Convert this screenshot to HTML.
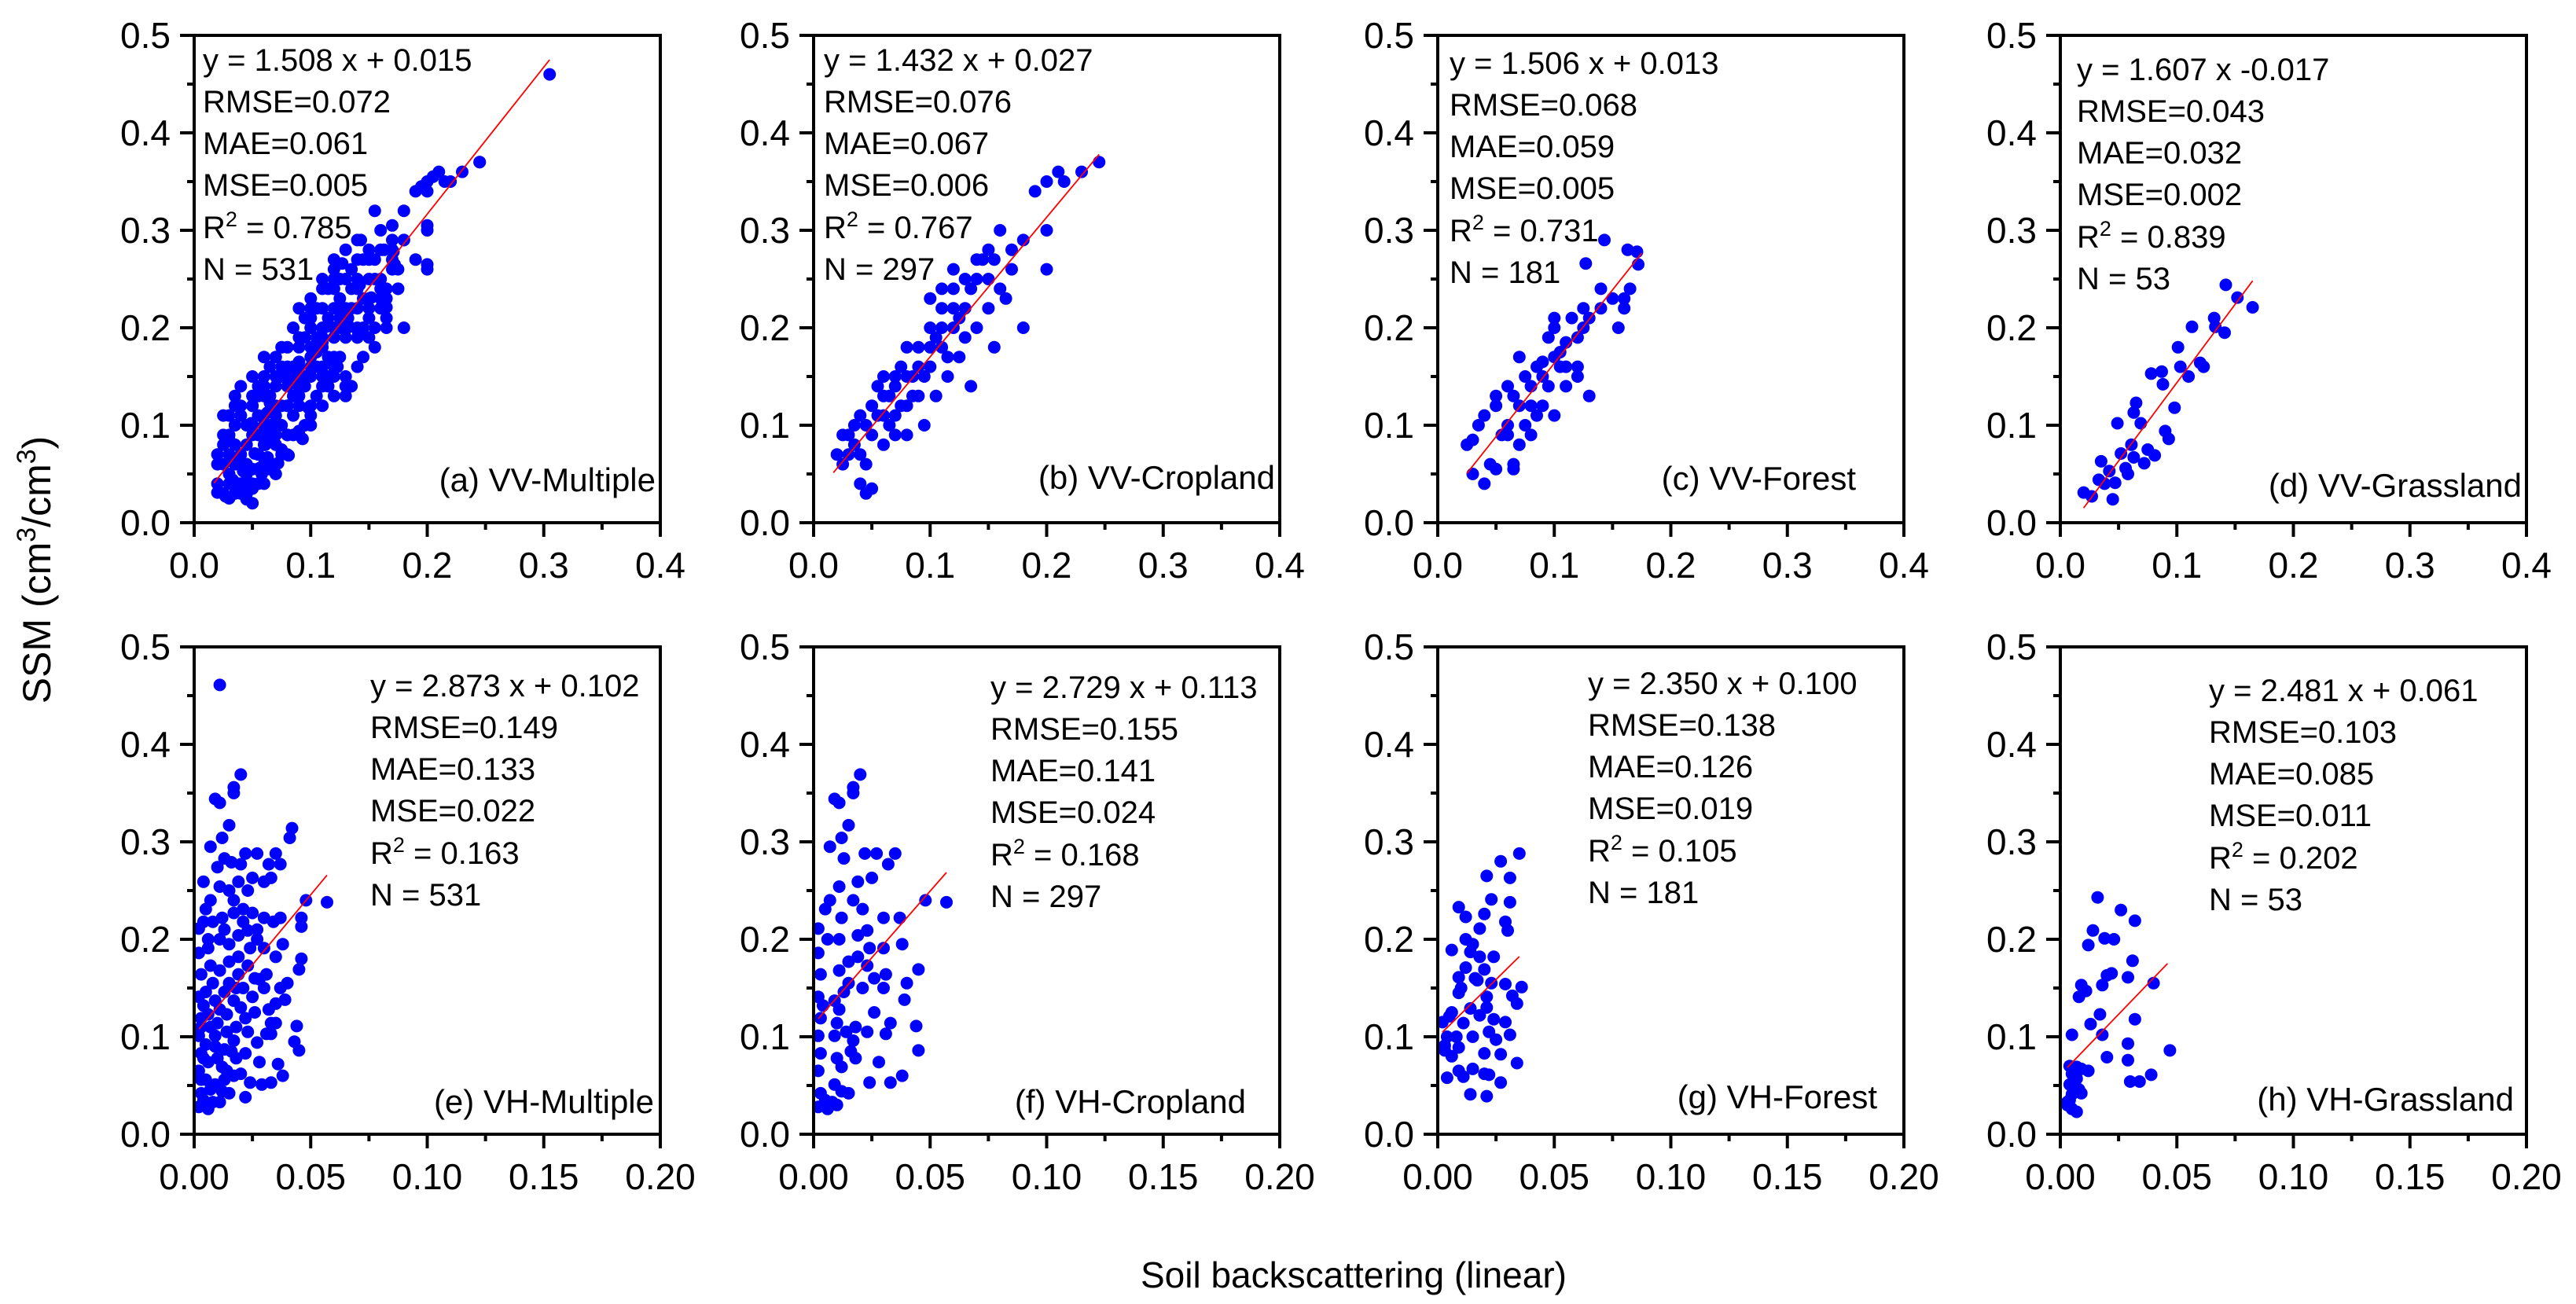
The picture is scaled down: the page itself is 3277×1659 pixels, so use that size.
<!DOCTYPE html>
<html><head><meta charset="utf-8">
<style>
html,body{margin:0;padding:0;background:#fff;}
svg{display:block;font-family:"Liberation Sans",Arial,sans-serif;}
</style></head>
<body>
<svg id="fig" width="3277" height="1659" viewBox="0 0 3277 1659" xmlns="http://www.w3.org/2000/svg">
<rect width="3277" height="1659" fill="#fff"/>
<text x="0" y="0" transform="translate(64,725) rotate(-90)" text-anchor="middle" font-size="50">SSM (cm<tspan baseline-shift="super" font-size="34">3</tspan>/cm<tspan baseline-shift="super" font-size="34">3</tspan>)</text>
<text x="1722" y="1638" text-anchor="middle" font-size="46">Soil backscattering (linear)</text>
</svg>
<script>
// ---- data ----
const yTicks = [0, 0.1, 0.2, 0.3, 0.4, 0.5];
const yTickLabels = ["0.0","0.1","0.2","0.3","0.4","0.5"];
const xTicksVV = [0, 0.1, 0.2, 0.3, 0.4];
const xTickLabelsVV = ["0.0","0.1","0.2","0.3","0.4"];
const xTicksVH = [0, 0.05, 0.1, 0.15, 0.2];
const xTickLabelsVH = ["0.00","0.05","0.10","0.15","0.20"];

const fitSlopes = [1.508, 1.432, 1.506, 1.607, 2.873, 2.729, 2.350, 2.481];
const fitIntercepts = [0.015, 0.027, 0.013, -0.017, 0.102, 0.113, 0.100, 0.061];
const fitXRange = [[0.017,0.305],[0.017,0.245],[0.025,0.175],[0.02,0.165],[0.002,0.057],[0.002,0.057],[0.002,0.035],[0.003,0.046]];
const statRMSE = ["0.072","0.076","0.068","0.043","0.149","0.155","0.138","0.103"];
const statMAE = ["0.061","0.067","0.059","0.032","0.133","0.141","0.126","0.085"];
const statMSE = ["0.005","0.006","0.005","0.002","0.022","0.024","0.019","0.011"];
const statR2 = ["0.785","0.767","0.731","0.839","0.163","0.168","0.105","0.202"];
const statN = ["531","297","181","53","531","297","181","53"];
const eqTexts = ["y = 1.508 x + 0.015","y = 1.432 x + 0.027","y = 1.506 x + 0.013","y = 1.607 x -0.017","y = 2.873 x + 0.102","y = 2.729 x + 0.113","y = 2.350 x + 0.100","y = 2.481 x + 0.061"];
const panelLabels = ["(a) VV-Multiple","(b) VV-Cropland","(c) VV-Forest","(d) VV-Grassland","(e) VH-Multiple","(f) VH-Cropland","(g) VH-Forest","(h) VH-Grassland"];

const ptsB = [[0.02,0.07],[0.025,0.06],[0.03,0.09],[0.035,0.08],[0.04,0.04],[0.045,0.03],[0.05,0.035],[0.04,0.11],[0.05,0.12],[0.05,0.09],[0.06,0.13],[0.06,0.08],[0.065,0.1],[0.07,0.14],[0.07,0.11],[0.075,0.16],[0.08,0.12],[0.08,0.09],[0.085,0.15],[0.09,0.18],[0.09,0.13],[0.095,0.1],[0.1,0.16],[0.1,0.2],[0.105,0.13],[0.11,0.18],[0.11,0.22],[0.115,0.15],[0.12,0.2],[0.12,0.24],[0.125,0.17],[0.13,0.19],[0.13,0.22],[0.135,0.14],[0.14,0.25],[0.14,0.2],[0.145,0.27],[0.15,0.22],[0.15,0.28],[0.155,0.18],[0.16,0.24],[0.16,0.3],[0.17,0.26],[0.18,0.2],[0.18,0.29],[0.19,0.34],[0.2,0.3],[0.2,0.26],[0.2,0.35],[0.21,0.36],[0.215,0.35],[0.23,0.36],[0.245,0.37],[0.165,0.23],[0.03,0.07],[0.035,0.1],[0.045,0.1],[0.055,0.11],[0.06,0.11],[0.065,0.13],[0.07,0.09],[0.075,0.12],[0.08,0.15],[0.085,0.13],[0.09,0.16],[0.095,0.15],[0.1,0.18],[0.105,0.19],[0.11,0.2],[0.115,0.17],[0.12,0.22],[0.125,0.21],[0.13,0.25],[0.135,0.24],[0.14,0.27],[0.15,0.25],[0.155,0.27],[0.17,0.28],[0.06,0.15],[0.045,0.06],[0.04,0.07],[0.055,0.14],[0.1,0.23],[0.11,0.24],[0.12,0.26],[0.08,0.18],[0.025,0.09],[0.07,0.15]];
const ptsC = [[0.025,0.08],[0.03,0.085],[0.035,0.1],[0.04,0.11],[0.03,0.05],[0.04,0.04],[0.045,0.06],[0.05,0.055],[0.05,0.13],[0.05,0.12],[0.055,0.09],[0.06,0.09],[0.06,0.14],[0.065,0.13],[0.065,0.06],[0.065,0.055],[0.07,0.12],[0.07,0.08],[0.075,0.1],[0.08,0.09],[0.075,0.15],[0.08,0.14],[0.085,0.16],[0.09,0.12],[0.09,0.15],[0.095,0.14],[0.1,0.17],[0.095,0.19],[0.1,0.2],[0.1,0.21],[0.105,0.16],[0.105,0.175],[0.11,0.185],[0.11,0.14],[0.12,0.16],[0.12,0.15],[0.115,0.21],[0.125,0.2],[0.125,0.22],[0.13,0.21],[0.14,0.24],[0.14,0.22],[0.15,0.23],[0.155,0.2],[0.16,0.22],[0.16,0.23],[0.165,0.24],[0.143,0.29],[0.163,0.28],[0.171,0.278],[0.172,0.265],[0.127,0.266],[0.13,0.13],[0.1,0.11],[0.085,0.11],[0.06,0.1],[0.07,0.17],[0.09,0.165],[0.11,0.16],[0.08,0.12],[0.12,0.19]];
const ptsD = [[0.02,0.031],[0.027,0.027],[0.033,0.044],[0.035,0.063],[0.042,0.053],[0.045,0.024],[0.047,0.041],[0.049,0.102],[0.052,0.071],[0.056,0.056],[0.061,0.08],[0.063,0.113],[0.065,0.123],[0.069,0.102],[0.072,0.061],[0.078,0.153],[0.081,0.069],[0.087,0.155],[0.088,0.142],[0.09,0.094],[0.093,0.086],[0.098,0.118],[0.101,0.18],[0.103,0.16],[0.11,0.15],[0.113,0.201],[0.12,0.164],[0.123,0.16],[0.132,0.21],[0.133,0.201],[0.141,0.195],[0.142,0.244],[0.152,0.231],[0.165,0.221],[0.063,0.067],[0.075,0.075],[0.038,0.04],[0.058,0.05]];
const ptsAExtra = [[0.02,0.06],[0.025,0.03],[0.03,0.025],[0.03,0.11],[0.035,0.12],[0.04,0.12],[0.045,0.03],[0.05,0.02],[0.05,0.04],[0.045,0.08],[0.05,0.1],[0.055,0.13],[0.06,0.14],[0.06,0.06],[0.065,0.09],[0.07,0.05],[0.075,0.07],[0.08,0.16],[0.085,0.09],[0.09,0.19],[0.1,0.15],[0.1,0.12],[0.11,0.19],[0.115,0.14],[0.12,0.25],[0.12,0.17],[0.125,0.23],[0.13,0.15],[0.135,0.26],[0.14,0.19],[0.145,0.17],[0.15,0.27],[0.15,0.21],[0.155,0.25],[0.16,0.28],[0.17,0.27],[0.175,0.24],[0.18,0.32],[0.18,0.29],[0.19,0.27],[0.195,0.345],[0.2,0.34],[0.2,0.305],[0.205,0.355],[0.2,0.265],[0.22,0.35],[0.245,0.37],[0.305,0.46],[0.155,0.32],[0.17,0.305],[0.175,0.24],[0.165,0.21],[0.15,0.19],[0.14,0.16],[0.13,0.14],[0.145,0.2],[0.085,0.2],[0.09,0.22],[0.1,0.22],[0.11,0.25],[0.12,0.27],[0.13,0.28],[0.14,0.29],[0.06,0.17],[0.05,0.15],[0.04,0.14],[0.035,0.13],[0.025,0.11],[0.03,0.04],[0.035,0.03],[0.04,0.03],[0.055,0.04],[0.06,0.04],[0.07,0.06],[0.08,0.07],[0.09,0.09],[0.1,0.1],[0.11,0.12],[0.12,0.13],[0.065,0.16],[0.075,0.18],[0.095,0.21],[0.105,0.22],[0.115,0.24],[0.125,0.25],[0.135,0.22],[0.145,0.23],[0.16,0.25],[0.175,0.26],[0.17,0.29],[0.165,0.2],[0.055,0.07],[0.045,0.05],[0.035,0.06],[0.02,0.04]];

const ptsE = [[0.011,0.461],[0.009,0.344],[0.011,0.34],[0.017,0.356],[0.017,0.35],[0.02,0.369],[0.015,0.317],[0.012,0.304],[0.007,0.295],[0.004,0.259],[0.01,0.274],[0.013,0.283],[0.016,0.279],[0.02,0.277],[0.022,0.288],[0.027,0.288],[0.032,0.277],[0.035,0.288],[0.037,0.277],[0.042,0.314],[0.041,0.304],[0.002,0.211],[0.004,0.218],[0.007,0.24],[0.011,0.254],[0.015,0.25],[0.019,0.259],[0.025,0.263],[0.03,0.259],[0.033,0.263],[0.005,0.231],[0.008,0.218],[0.012,0.222],[0.017,0.227],[0.021,0.231],[0.025,0.227],[0.03,0.222],[0.034,0.218],[0.037,0.222],[0.046,0.222],[0.046,0.213],[0.048,0.24],[0.057,0.238],[0.002,0.186],[0.006,0.191],[0.011,0.2],[0.015,0.195],[0.019,0.204],[0.023,0.209],[0.027,0.2],[0.03,0.191],[0.035,0.182],[0.038,0.195],[0.046,0.18],[0.045,0.169],[0.003,0.164],[0.007,0.173],[0.011,0.168],[0.015,0.177],[0.019,0.164],[0.023,0.173],[0.028,0.159],[0.031,0.164],[0.037,0.15],[0.04,0.155],[0.002,0.141],[0.005,0.146],[0.009,0.137],[0.013,0.146],[0.017,0.137],[0.021,0.15],[0.025,0.141],[0.03,0.15],[0.035,0.134],[0.039,0.138],[0.003,0.119],[0.006,0.123],[0.01,0.114],[0.014,0.123],[0.018,0.11],[0.022,0.119],[0.026,0.125],[0.032,0.128],[0.033,0.114],[0.035,0.114],[0.044,0.111],[0.002,0.101],[0.005,0.092],[0.009,0.101],[0.013,0.087],[0.017,0.096],[0.023,0.105],[0.027,0.094],[0.031,0.103],[0.033,0.103],[0.043,0.095],[0.045,0.086],[0.003,0.083],[0.006,0.074],[0.01,0.078],[0.014,0.065],[0.018,0.078],[0.022,0.083],[0.028,0.074],[0.036,0.072],[0.038,0.06],[0.002,0.065],[0.005,0.056],[0.009,0.051],[0.013,0.056],[0.015,0.042],[0.02,0.062],[0.024,0.053],[0.029,0.051],[0.033,0.053],[0.022,0.038],[0.002,0.028],[0.004,0.035],[0.006,0.026],[0.008,0.033],[0.011,0.033],[0.003,0.042],[0.007,0.046],[0.012,0.044],[0.003,0.056],[0.004,0.078],[0.003,0.11],[0.004,0.132],[0.007,0.11],[0.011,0.128],[0.015,0.155],[0.019,0.182],[0.021,0.218],[0.024,0.191],[0.018,0.15],[0.014,0.105],[0.012,0.069],[0.017,0.06],[0.008,0.155],[0.006,0.2],[0.013,0.21],[0.017,0.24],[0.023,0.25],[0.027,0.21],[0.02,0.13],[0.026,0.16],[0.009,0.09],[0.016,0.085]];
const ptsF = [[0.02,0.369],[0.017,0.356],[0.017,0.35],[0.009,0.344],[0.011,0.34],[0.015,0.317],[0.012,0.304],[0.007,0.295],[0.013,0.283],[0.022,0.288],[0.027,0.288],[0.032,0.277],[0.035,0.288],[0.002,0.211],[0.007,0.24],[0.011,0.254],[0.019,0.259],[0.025,0.263],[0.005,0.231],[0.012,0.222],[0.021,0.231],[0.03,0.222],[0.037,0.222],[0.048,0.24],[0.057,0.238],[0.002,0.186],[0.011,0.2],[0.019,0.204],[0.023,0.209],[0.03,0.191],[0.038,0.195],[0.045,0.169],[0.003,0.164],[0.011,0.168],[0.015,0.177],[0.023,0.173],[0.031,0.164],[0.04,0.155],[0.002,0.141],[0.009,0.137],[0.013,0.146],[0.021,0.15],[0.03,0.15],[0.039,0.138],[0.003,0.119],[0.01,0.114],[0.018,0.11],[0.026,0.125],[0.033,0.114],[0.044,0.111],[0.002,0.101],[0.009,0.101],[0.017,0.096],[0.023,0.105],[0.031,0.103],[0.045,0.086],[0.003,0.083],[0.01,0.078],[0.018,0.078],[0.028,0.074],[0.038,0.06],[0.002,0.065],[0.009,0.051],[0.015,0.042],[0.024,0.053],[0.033,0.053],[0.002,0.028],[0.006,0.026],[0.008,0.033],[0.003,0.042],[0.012,0.044],[0.004,0.132],[0.011,0.128],[0.015,0.155],[0.019,0.182],[0.024,0.191],[0.014,0.105],[0.012,0.069],[0.006,0.2],[0.017,0.24],[0.026,0.16],[0.016,0.085],[0.005,0.035],[0.01,0.03]];
const ptsG = [[0.021,0.265],[0.031,0.263],[0.023,0.241],[0.031,0.238],[0.009,0.233],[0.012,0.223],[0.02,0.226],[0.029,0.218],[0.03,0.209],[0.018,0.211],[0.012,0.2],[0.015,0.195],[0.006,0.189],[0.014,0.187],[0.018,0.182],[0.024,0.182],[0.012,0.171],[0.02,0.169],[0.009,0.161],[0.017,0.158],[0.023,0.155],[0.029,0.154],[0.036,0.151],[0.009,0.145],[0.021,0.141],[0.032,0.142],[0.034,0.134],[0.006,0.125],[0.014,0.129],[0.018,0.122],[0.021,0.13],[0.002,0.115],[0.011,0.114],[0.024,0.118],[0.029,0.115],[0.008,0.1],[0.015,0.1],[0.022,0.105],[0.031,0.102],[0.003,0.091],[0.009,0.089],[0.025,0.097],[0.003,0.086],[0.02,0.083],[0.027,0.082],[0.034,0.073],[0.009,0.065],[0.015,0.067],[0.02,0.062],[0.022,0.061],[0.004,0.058],[0.011,0.059],[0.027,0.053],[0.014,0.041],[0.021,0.039],[0.005,0.121],[0.035,0.288],[0.027,0.28],[0.016,0.16],[0.01,0.15],[0.004,0.1],[0.006,0.08]];
const ptsH = [[0.016,0.243],[0.026,0.23],[0.032,0.219],[0.014,0.209],[0.019,0.201],[0.023,0.2],[0.012,0.194],[0.031,0.178],[0.02,0.163],[0.022,0.165],[0.029,0.161],[0.009,0.153],[0.04,0.155],[0.018,0.153],[0.011,0.147],[0.008,0.141],[0.017,0.123],[0.032,0.118],[0.013,0.113],[0.005,0.102],[0.018,0.102],[0.029,0.093],[0.047,0.086],[0.02,0.079],[0.029,0.076],[0.03,0.054],[0.034,0.054],[0.039,0.061],[0.004,0.07],[0.007,0.069],[0.009,0.067],[0.012,0.065],[0.005,0.062],[0.007,0.057],[0.004,0.051],[0.008,0.046],[0.005,0.041],[0.009,0.042],[0.004,0.035],[0.003,0.03],[0.005,0.026],[0.007,0.023],[0.003,0.033]];

const ptsA = [].concat(ptsB, ptsC, ptsD, ptsAExtra);
const panelPoints = [ptsA, ptsB, ptsC, ptsD, ptsE, ptsF, ptsG, ptsH];

// ---- layout ----
const NS = "http://www.w3.org/2000/svg";
const svg = document.getElementById('fig');
const lefts = [247, 1035, 1829, 2621];
const tops = [45, 823];
const W = 593, H = 620;
const statPos = [[11,45],[13,45],[15,49],[21,57],[224,63],[225,65],[191,60],[189,69]];
const labelPos = [[-6,-40],[-6,-43],[-61,-42],[-6,-33],[-8,-27],[-43,-27],[-34,-33],[-16,-30]];
const panelNames = ["vv-multiple","vv-cropland","vv-forest","vv-grassland","vh-multiple","vh-cropland","vh-forest","vh-grassland"];

function mk(tag, attrs, parent){
  const e = document.createElementNS(NS, tag);
  for (const k in attrs) e.setAttribute(k, attrs[k]);
  parent.appendChild(e);
  return e;
}

for (let p = 0; p < 8; p++){
  const row = p < 4 ? 0 : 1, col = p % 4;
  const L = lefts[col], T = tops[row], B = T + H, R = L + W;
  const xmax = row === 0 ? 0.4 : 0.2;
  const xTicks = row === 0 ? xTicksVV : xTicksVH;
  const xLabels = row === 0 ? xTickLabelsVV : xTickLabelsVH;
  const sx = v => L + v / xmax * W;
  const sy = v => B - v / 0.5 * H;
  const g = mk('g', {}, svg);
  
  

  const pg = mk('g', {fill:'#0000ff'}, g);
  
  
  for (const pt of panelPoints[p]){
    const c = mk('circle', {cx: sx(pt[0]).toFixed(1), cy: sy(pt[1]).toFixed(1), r: 8}, pg);
    
    
  }
  const x0 = fitXRange[p][0], x1 = fitXRange[p][1];
  const ln = mk('line', {x1: sx(x0), y1: sy(fitSlopes[p]*x0 + fitIntercepts[p]), x2: sx(x1), y2: sy(fitSlopes[p]*x1 + fitIntercepts[p]), stroke:'#ff0000', 'stroke-width':1.8}, g);
  
  

  const fr = mk('rect', {x:L, y:T, width:W, height:H, fill:'none', stroke:'#000', 'stroke-width':4}, g);
  
  

  for (let i = 0; i < yTicks.length; i++){
    const y = sy(yTicks[i]);
    mk('line', {x1:L-18, y1:y, x2:L, y2:y, stroke:'#000', 'stroke-width':4}, g);
    if (i < yTicks.length - 1){
      const ym = sy(yTicks[i] + 0.05);
      mk('line', {x1:L-9, y1:ym, x2:L, y2:ym, stroke:'#000', 'stroke-width':4}, g);
    }
    const t = mk('text', {x:L-30, y:y+16, 'text-anchor':'end', 'font-size':46}, g);
    t.textContent = yTickLabels[i];
    
    
  }
  for (let i = 0; i < xTicks.length; i++){
    const x = sx(xTicks[i]);
    mk('line', {x1:x, y1:B, x2:x, y2:B+18, stroke:'#000', 'stroke-width':4}, g);
    if (i < xTicks.length - 1){
      const xm = sx((xTicks[i] + xTicks[i+1]) / 2);
      mk('line', {x1:xm, y1:B, x2:xm, y2:B+9, stroke:'#000', 'stroke-width':4}, g);
    }
    const t = mk('text', {x:x, y:B+70, 'text-anchor':'middle', 'font-size':46}, g);
    t.textContent = xLabels[i];
    
    
  }

  const st = mk('text', {x:L+statPos[p][0], y:T+statPos[p][1], 'font-size':40}, g);
  
  
  const lines = [eqTexts[p], 'RMSE=' + statRMSE[p], 'MAE=' + statMAE[p], 'MSE=' + statMSE[p], null, 'N = ' + statN[p]];
  const offs = [0, 53, 106, 159, 213, 266];
  for (let i = 0; i < lines.length; i++){
    const ts = mk('tspan', {x:L+statPos[p][0], y:T+statPos[p][1]+offs[i]}, st);
    if (lines[i] === null){
      ts.textContent = 'R';
      const sup = mk('tspan', {'font-size':27, dy:-15}, st);
      sup.textContent = '2';
      const rest = mk('tspan', {dy:15}, st);
      rest.textContent = ' = ' + statR2[p];
    } else {
      ts.textContent = lines[i];
    }
  }
  const lb = mk('text', {x:R+labelPos[p][0], y:B+labelPos[p][1], 'text-anchor':'end', 'font-size':42}, g);
  lb.textContent = panelLabels[p];
  
  
}
</script>
</body></html>
